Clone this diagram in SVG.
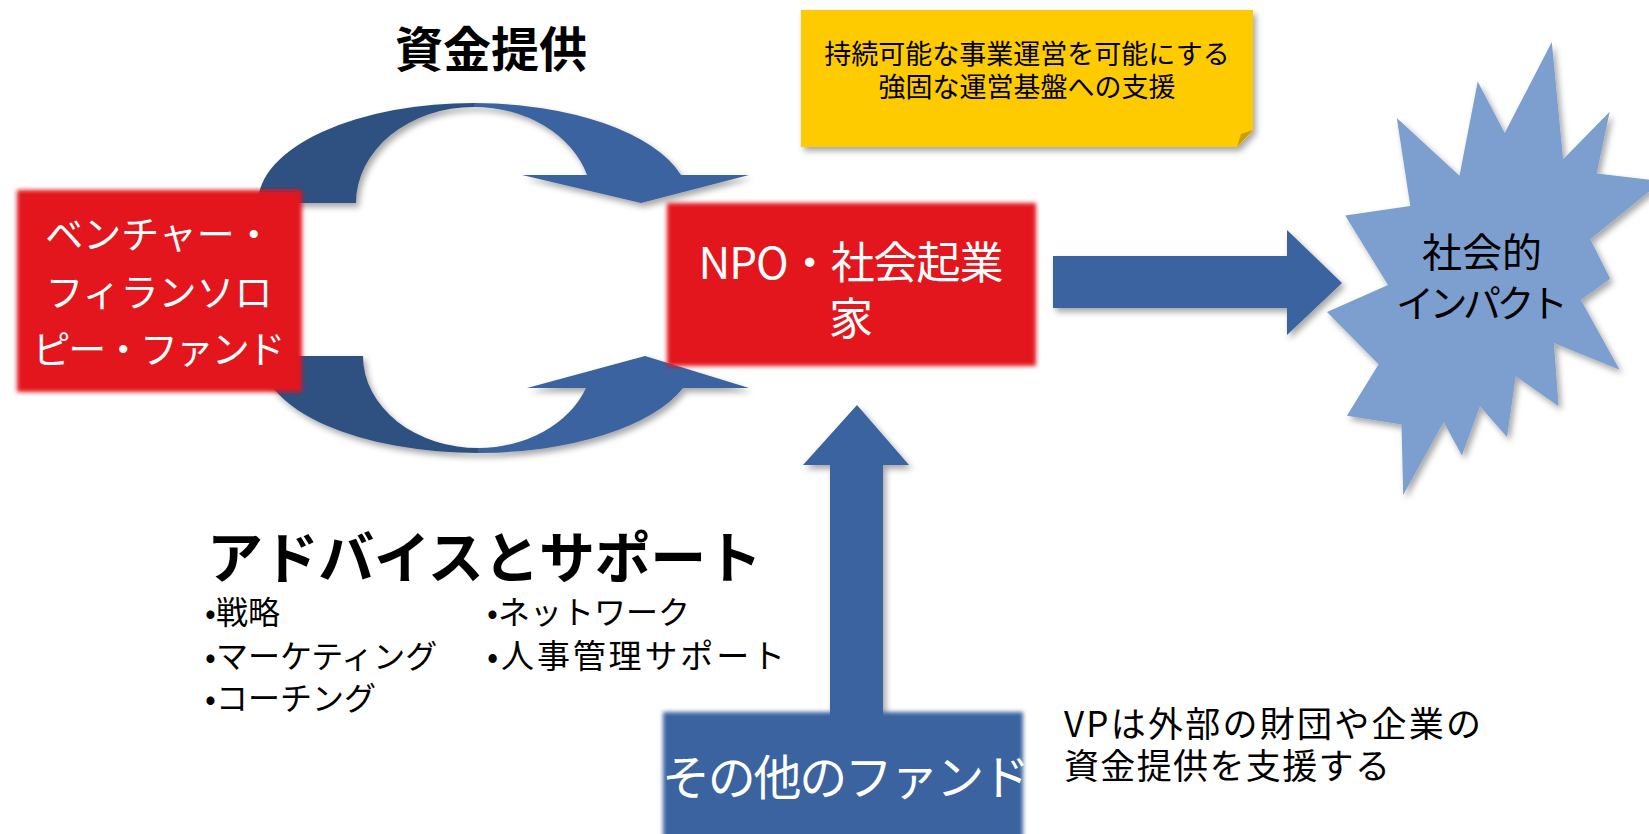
<svg xmlns="http://www.w3.org/2000/svg" width="1649" height="834" viewBox="0 0 1649 834">
<defs>
<filter id="shadow" x="-10%" y="-10%" width="130%" height="130%">
<feDropShadow dx="3" dy="4" stdDeviation="3" flood-color="#000" flood-opacity="0.35"/>
</filter>
<filter id="soft" x="-5%" y="-5%" width="110%" height="110%">
<feGaussianBlur stdDeviation="2"/>
</filter>
</defs>
<style>
text{font-family:"Noto Sans CJK JP","Noto Sans",sans-serif;}
.w{fill:#fff}
.k{fill:#000}
.red{fill:#E2191B}
.blue{fill:#3A64A0}
.dark{fill:#2E5182}
.c{text-anchor:middle}
.b{font-weight:700}
</style>
<rect width="1649" height="834" fill="#fff"/>

<g id="connectors" filter="url(#shadow)">
<path class="dark" d="M258,203 A216,100 0 0 1 476,103 L474,107 A118,96 0 0 0 356,203 Z"/>
<path class="blue" d="M474,103 A216,100 0 0 1 681,175 L749,175 L641,203 L522,175 L587,175 A118,96 0 0 0 474,107 Z"/>
<path class="dark" d="M261,356 L363,356 A115,92 0 0 0 480,448 L480,453 A217,97 0 0 1 261,356 Z"/>
<path class="blue" d="M478,448 A115,92 0 0 0 586,388 L527,388 L645,356 L749,388 L683,388 A217,97 0 0 1 478,453 Z"/>
<path class="blue" d="M1053,256 H1287 V230 L1342,283 L1287,335 V308 H1053 Z"/>
<path class="blue" d="M830,834 V465 H803 L857,405 L909,465 H883 V834 Z"/>
</g>

<g id="funding-title">
<text class="k c b" x="491" y="67" font-size="48">資金提供</text>
</g>

<g id="venture-fund">
<rect class="red" x="17" y="190" width="285" height="202" filter="url(#soft)"/>
<text class="w c" x="159" y="248" font-size="38">ベンチャー・</text>
<text class="w c" x="159" y="306" font-size="38">フィランソロ</text>
<text class="w c" x="159" y="363" font-size="38" textLength="253">ピー・ファンド</text>
</g>

<g id="npo">
<rect class="red" x="667" y="203" width="369" height="163" filter="url(#soft)"/>
<text class="w c" x="851" y="279" font-size="44" textLength="305">NPO・社会起業</text>
<text class="w c" x="851" y="335" font-size="44">家</text>
</g>

<g id="note">
<g filter="url(#shadow)">
<path fill="#FECB00" d="M801,10 H1253 V130 L1237,147 H801 Z"/>
<path fill="#C9A000" d="M1253,130 L1237,147 L1241,134 Z"/>
</g>
<text class="k c" x="1027" y="64" font-size="27">持続可能な事業運営を可能にする</text>
<text class="k c" x="1027" y="97" font-size="27">強固な運営基盤への支援</text>
</g>

<g id="impact">
<polygon filter="url(#shadow)" fill="#7B9FCF" points="1504.7,133.1 1477.7,81.6 1459.5,175.8 1396.8,118 1410.3,205.9 1345.2,215.4 1388,285.1 1327,312 1378.6,364.3 1346.9,415.8 1401.5,424.5 1403.2,495 1443.7,422.1 1461.9,455.4 1480,406.2 1507,437.1 1515.8,376.2 1558.6,406.2 1553.9,342.9 1619.6,369.8 1580.9,300.1 1610.2,278.7 1590.3,239.2 1661.8,181.3 1596.7,173.5 1609.7,111.8 1563.1,159.3 1551.8,42"/>
<text class="k c" x="1482" y="267" font-size="40">社会的</text>
<text class="k c" x="1482" y="317" font-size="38" textLength="172">インパクト</text>
</g>

<g id="advice">
<text class="k b" x="207" y="578" font-size="56" textLength="555">アドバイスとサポート</text>
<text class="k" x="205" y="624" font-size="32">•戦略</text>
<text class="k" x="205" y="668" font-size="32">•マーケティング</text>
<text class="k" x="205" y="710" font-size="32">•コーチング</text>
<text class="k" x="487" y="624" font-size="32">•ネットワーク</text>
<text class="k" x="487" y="668" font-size="33" textLength="298">•人事管理サポート</text>
</g>

<g id="other-fund">
<rect class="blue" x="663" y="712" width="360" height="130" filter="url(#soft)"/>
<text class="w c" x="846" y="795" font-size="48" textLength="368">その他のファンド</text>
</g>

<g id="vp-note">
<text class="k" x="1064" y="737" font-size="35" textLength="417">VPは外部の財団や企業の</text>
<text class="k" x="1064" y="779" font-size="35" textLength="326">資金提供を支援する</text>
</g>
</svg>
